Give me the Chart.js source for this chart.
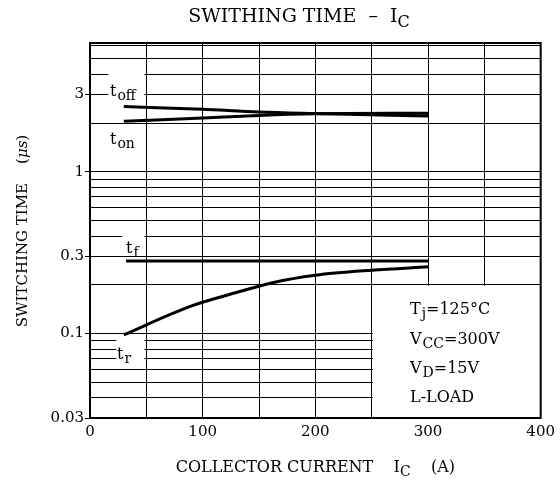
<!DOCTYPE html>
<html><head><meta charset="utf-8">
<script src="https://cdn.jsdelivr.net/npm/chart.js@4/dist/chart.umd.min.js"></script>
<style>html,body{margin:0;padding:0;background:#fff}</style>
</head><body>
<canvas id="c" width="560" height="481" style="width:560px;height:481px;display:block"></canvas>
<script>
// ---- data ----
const currentOff = [30, 100, 150, 200, 300];
const tOff       = [2.53, 2.43, 2.34, 2.29, 2.21];
const currentOn  = [30, 100, 150, 200, 300];
const tOn        = [2.05, 2.15, 2.23, 2.28, 2.30];
const currentF   = [32, 300];
const tF         = [0.28, 0.28];
const currentR   = [30, 89, 130, 162, 200, 250, 300];
const tR         = [0.098, 0.147, 0.179, 0.206, 0.229, 0.246, 0.258];
const xTickValues = [0, 50, 100, 150, 200, 250, 300, 350, 400];
const xTickLabels = [0, 100, 200, 300, 400];
const yGridValues = [0.03,0.04,0.05,0.06,0.07,0.08,0.09,0.1,0.2,0.3,0.4,0.5,0.6,0.7,0.8,0.9,1,2,3,4,5,6];
const yTickLabels = [0.03, 0.1, 0.3, 1, 3];
const conditions = [["T","j","=125°C"],["V","CC","=300V"],["V","D","=15V"],["L-LOAD","",""]];

const SERIF = '"DejaVu Serif", "Liberation Serif", serif';
const pts = (xs, ys) => xs.map((x, i) => ({x, y: ys[i]}));

function subText(ctx, main, sub, rest, x, y, size, subSize, drop) {
  ctx.font = size + 'px ' + SERIF;
  ctx.fillText(main, x, y);
  let w = ctx.measureText(main).width;
  if (sub) {
    ctx.font = subSize + 'px ' + SERIF;
    ctx.fillText(sub, x + w + 1, y + drop);
    w += ctx.measureText(sub).width + 1;
  }
  if (rest) {
    ctx.font = size + 'px ' + SERIF;
    ctx.fillText(rest, x + w, y);
    w += ctx.measureText(rest).width;
  }
  return w;
}

const annot = {
  id: 'annot',
  beforeDatasetsDraw(chart) {
    const {ctx, scales: {x, y}, chartArea: a} = chart;
    ctx.save();
    ctx.fillStyle = '#fff';
    // condition box area (250..400 A, below 0.2 us)
    const bx = x.getPixelForValue(250) + 1, by = y.getPixelForValue(0.2) + 1;
    ctx.fillRect(bx, by, a.right - bx, a.bottom - by);
    // label masks
    const x0 = x.getPixelForValue(50) - 1;
    ctx.fillRect(x0 - 37, 69, 36, 31);
    ctx.fillRect(x0 - 23, 232, 22, 24);
    ctx.fillRect(x0 - 29, 338, 28, 22);
    ctx.fillStyle = '#000';
    ctx.textBaseline = 'alphabetic';
    ctx.textAlign = 'left';
    subText(ctx, 't', 'off', '', 110, 96, 16, 14, 4);
    subText(ctx, 't', 'on', '', 110, 144, 16, 14, 4);
    subText(ctx, 't', 'f', '', 126, 253, 16, 14, 4);
    subText(ctx, 't', 'r', '', 117, 359, 16, 14, 4);
    // conditions
    const lines = [314, 344, 373, 402];
    conditions.forEach((c, i) => subText(ctx, c[0], c[1], c[2], 410, lines[i], 16, 14, 4));
    ctx.restore();
  },
  afterDraw(chart) {
    const {ctx, chartArea: a} = chart;
    ctx.save();
    ctx.strokeStyle = '#000';
    ctx.lineWidth = 2;
    ctx.strokeRect(a.left, a.top, a.right - a.left, a.bottom - a.top);
    ctx.fillStyle = '#000';
    ctx.textBaseline = 'alphabetic';
    // title
    ctx.font = '19px ' + SERIF;
    const t1 = 'SWITHING TIME  \u2013  I';
    const w1 = ctx.measureText(t1).width;
    ctx.font = '16px ' + SERIF;
    const w2 = ctx.measureText('C').width;
    let sx = 299 - (w1 + w2) / 2;
    ctx.font = '19px ' + SERIF;
    ctx.fillText(t1, sx, 22);
    ctx.font = '16px ' + SERIF;
    ctx.fillText('C', sx + w1, 27);
    // x title
    const cx = (a.left + a.right) / 2;
    ctx.font = '16px ' + SERIF;
    const xt1 = 'COLLECTOR CURRENT    I', xt3 = '    (A)';
    const wa = ctx.measureText(xt1).width, wc = ctx.measureText(xt3).width;
    ctx.font = '14px ' + SERIF;
    const wb = ctx.measureText('C').width;
    sx = cx - (wa + wb + wc) / 2;
    ctx.font = '16px ' + SERIF;
    ctx.fillText(xt1, sx, 472);
    ctx.fillText(xt3, sx + wa + wb, 472);
    ctx.font = '14px ' + SERIF;
    ctx.fillText('C', sx + wa, 476);
    // y title
    ctx.translate(27, 231);
    ctx.rotate(-Math.PI / 2);
    ctx.font = '15px ' + SERIF;
    const ya = 'SWITCHING TIME    (', yc = ')';
    const wya = ctx.measureText(ya).width;
    ctx.font = 'italic 15px ' + SERIF;
    const wyb = ctx.measureText('\u03bcs').width;
    ctx.font = '15px ' + SERIF;
    const wyc = ctx.measureText(yc).width;
    let ys = -(wya + wyb + wyc) / 2;
    ctx.fillText(ya, ys, 0);
    ctx.font = 'italic 15px ' + SERIF;
    ctx.fillText('\u03bcs', ys + wya, 0);
    ctx.font = '15px ' + SERIF;
    ctx.fillText(yc, ys + wya + wyb, 0);
    ctx.restore();
  }
};

const ds = (label, data) => ({label, data, borderColor: '#000', borderWidth: 3, pointRadius: 0,
  fill: false, cubicInterpolationMode: 'monotone'});

new Chart(document.getElementById('c'), {
  type: 'line',
  data: {
    datasets: [
      ds('toff', pts(currentOff, tOff)),
      ds('ton', pts(currentOn, tOn)),
      ds('tf', pts(currentF, tF)),
      ds('tr', pts(currentR, tR))
    ]
  },
  options: {
    responsive: false,
    animation: false,
    devicePixelRatio: 1,
    layout: {padding: {top: 43, right: 19, left: 0, bottom: 0}},
    plugins: {legend: {display: false}, tooltip: {enabled: false}, title: {display: false}},
    scales: {
      x: {
        type: 'linear', min: 0, max: 400,
        afterBuildTicks: ax => { ax.ticks = xTickValues.map(v => ({value: v})); },
        afterFit: ax => { ax.height = 63; },
        ticks: {autoSkip: false, maxRotation: 0, padding: 5, color: '#000',
          font: {family: SERIF, size: 15},
          callback: v => xTickLabels.includes(v) ? String(v) : ''},
        grid: {color: '#000', lineWidth: 1, drawTicks: false},
        border: {color: '#000', width: 2}
      },
      y: {
        type: 'logarithmic', min: 0.03, max: 6.25,
        afterBuildTicks: ax => { ax.ticks = yGridValues.map(v => ({value: v})); },
        afterFit: ax => { ax.width = 90; },
        ticks: {autoSkip: false, padding: 1, color: '#000',
          font: {family: SERIF, size: 15},
          callback: v => yTickLabels.includes(v) ? String(v) : ''},
        grid: {color: '#000', lineWidth: 1, tickLength: 5,
          tickColor: c => (c.tick && yTickLabels.includes(c.tick.value)) ? '#000' : 'rgba(0,0,0,0)'},
        border: {color: '#000', width: 2}
      }
    }
  },
  plugins: [annot]
});
</script>
</body></html>
